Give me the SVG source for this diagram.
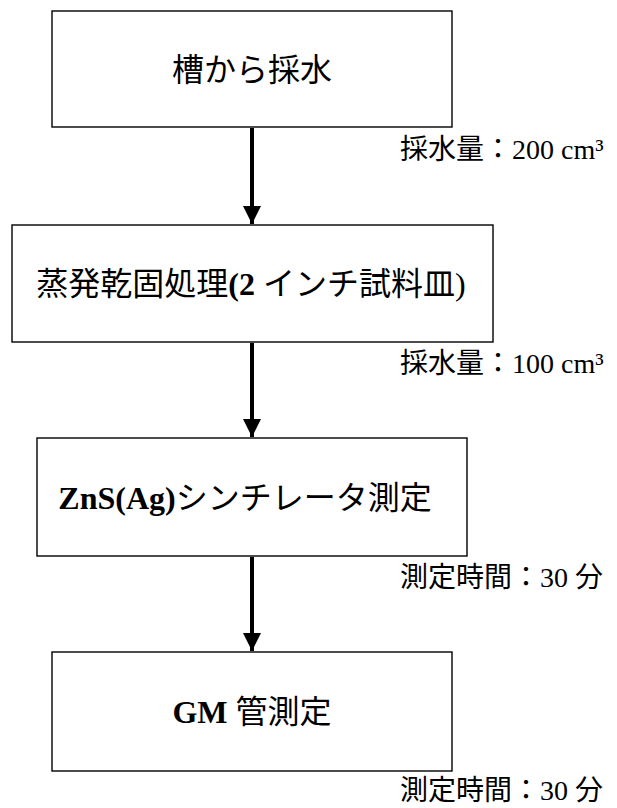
<svg xmlns="http://www.w3.org/2000/svg" width="617" height="808" viewBox="0 0 617 808">
<style>
.box{fill:#fff;stroke:#000;stroke-width:1.4}
.main{font-family:"Liberation Serif","Noto Sans CJK JP",serif;font-size:32px;fill:#000;text-anchor:middle}
.b{font-weight:bold}
.lab{font-family:"Liberation Serif","Noto Sans CJK JP",serif;font-size:28px;fill:#000}
.shaft{stroke:#000;stroke-width:4;fill:none}
</style>
<defs>
<marker id="ah" markerUnits="userSpaceOnUse" markerWidth="18" markerHeight="18" viewBox="0 0 16 16" refX="16" refY="8" orient="auto">
<path d="M0,0 L16,8 L0,16 Z" fill="#000"/>
</marker>
</defs>
<rect width="617" height="808" fill="#fff"/>
<g id="connectors">
<line class="shaft" x1="252" y1="128" x2="252" y2="224" marker-end="url(#ah)"/>
<line class="shaft" x1="252" y1="343" x2="252" y2="437" marker-end="url(#ah)"/>
<line class="shaft" x1="252" y1="557" x2="252" y2="651" marker-end="url(#ah)"/>
</g>
<g id="node1">
<rect class="box" x="52" y="11" width="400" height="116"/>
<text class="main" x="252" y="81">槽から採水</text>
</g>
<g id="label1">
<text class="lab" x="400" y="159">採水量：200 cm³</text>
</g>
<g id="node2">
<rect class="box" x="12" y="225" width="481" height="117"/>
<text class="main" x="251" y="295">蒸発乾固処理<tspan class="b">(2</tspan> インチ試料皿)</text>
</g>
<g id="label2">
<text class="lab" x="400" y="373">採水量：100 cm³</text>
</g>
<g id="node3">
<rect class="box" x="37" y="438" width="430" height="118"/>
<text class="main" x="245" y="509"><tspan class="b">ZnS(Ag)</tspan>シンチレータ測定</text>
</g>
<g id="label3">
<text class="lab" x="400" y="587">測定時間：30 分</text>
</g>
<g id="node4">
<rect class="box" x="52" y="652" width="400" height="119"/>
<text class="main" x="252" y="723"><tspan class="b">GM</tspan> 管測定</text>
</g>
<g id="label4">
<text class="lab" x="400" y="800">測定時間：30 分</text>
</g>
</svg>
